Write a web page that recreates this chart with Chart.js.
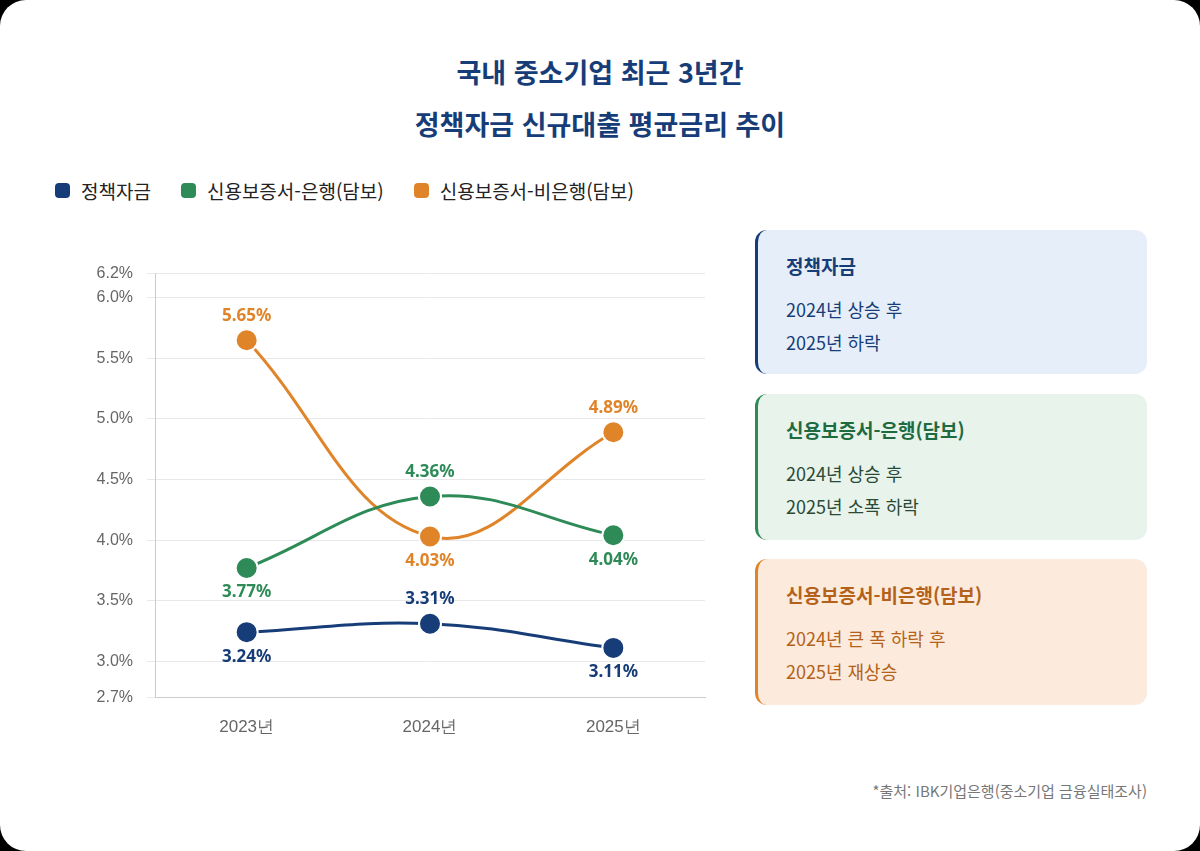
<!DOCTYPE html>
<html lang="ko">
<head>
<meta charset="utf-8">
<script src="https://cdn.jsdelivr.net/npm/chart.js@4"></script>
<style>
  html, body { margin: 0; padding: 0; background: #000; }
  body { width: 1200px; height: 851px; font-family: "Noto Sans CJK KR", "Noto Sans", sans-serif; }
  .card { position: absolute; left: 0; top: 0; width: 1200px; height: 851px; background: #fff; border-radius: 26px; overflow: hidden; }
  h1 { position: absolute; left: 0; width: 1200px; top: 46px; margin: 0; text-align: center; color: #173d78; font-size: 27px; line-height: 52px; font-weight: 700; }
  .legend { position: absolute; left: 55px; top: 177px; display: flex; gap: 30px; font-size: 19px; color: #222; }
  .legend span { display: inline-flex; align-items: center; }
  .legend i { display: inline-block; width: 15px; height: 15px; border-radius: 4px; margin-right: 11px; }
  .chart { position: absolute; left: 60px; top: 250px; width: 660px; height: 500px; }
  .panel { position: absolute; left: 755px; width: 392px; border-radius: 12px; border-left: 3px solid; box-sizing: border-box; padding: 22px 0 0 28px; }
  .panel b { display: block; font-size: 19px; margin-bottom: 14px; }
  .panel p { margin: 0; font-size: 18px; line-height: 33px; }
  .src { position: absolute; right: 53px; top: 780px; font-size: 15px; color: #777; }
</style>
</head>
<body>
<div class="card">
  <h1>국내 중소기업 최근 3년간<br>정책자금 신규대출 평균금리 추이</h1>
  <div class="legend">
    <span><i style="background:#173d78"></i>정책자금</span>
    <span><i style="background:#2e8b57"></i>신용보증서-은행(담보)</span>
    <span><i style="background:#e0842a"></i>신용보증서-비은행(담보)</span>
  </div>
  <div class="chart"><canvas id="rateChart"></canvas></div>
  <div class="panel" style="top:230px;height:144px;background:#e6eff9;border-color:#173d78;color:#173d78">
    <b>정책자금</b><p>2024년 상승 후<br>2025년 하락</p>
  </div>
  <div class="panel" style="top:394px;height:146px;background:#e8f3ec;border-color:#2e8b57;color:#1f6b40">
    <b>신용보증서-은행(담보)</b><p style="color:#2a4a35">2024년 상승 후<br>2025년 소폭 하락</p>
  </div>
  <div class="panel" style="top:559px;height:146px;background:#fcebdc;border-color:#e0842a;color:#b4621a">
    <b>신용보증서-비은행(담보)</b><p>2024년 큰 폭 하락 후<br>2025년 재상승</p>
  </div>
  <div class="src">*출처: IBK기업은행(중소기업 금융실태조사)</div>
</div>
<script>
(() => {
  const years = ["2023년", "2024년", "2025년"];
  const series = [
    { label: "정책자금", color: "#173d78", data: [3.24, 3.31, 3.11], pos: ["below", "above", "below"] },
    { label: "신용보증서-은행(담보)", color: "#2e8b57", data: [3.77, 4.36, 4.04], pos: ["below", "above", "below"] },
    { label: "신용보증서-비은행(담보)", color: "#e0842a", data: [5.65, 4.03, 4.89], pos: ["above", "below", "above"] },
  ];

  const valueLabels = {
    id: "valueLabels",
    afterDatasetsDraw(chart) {
      const { ctx } = chart;
      ctx.save();
      ctx.font = "bold 17px 'Noto Sans', sans-serif";
      ctx.textAlign = "center";
      chart.data.datasets.forEach((ds, i) => {
        const meta = chart.getDatasetMeta(i);
        meta.data.forEach((pt, j) => {
          const above = series[i].pos[j] === "above";
          ctx.fillStyle = ds.borderColor;
          ctx.textBaseline = above ? "bottom" : "top";
          ctx.fillText(ds.data[j].toFixed(2) + "%", pt.x, above ? pt.y - 16 : pt.y + 16);
        });
      });
      ctx.restore();
    },
  };

  new Chart(document.getElementById("rateChart"), {
    type: "line",
    data: {
      labels: years,
      datasets: series.map((s) => ({
        label: s.label,
        data: s.data,
        borderColor: s.color,
        backgroundColor: s.color,
        pointBackgroundColor: s.color,
        pointBorderColor: "#fff",
        pointBorderWidth: 2,
        pointRadius: 11,
        borderWidth: 3,
        tension: 0.4,
      })),
    },
    options: {
      responsive: true,
      maintainAspectRatio: false,
      animation: false,
      layout: { padding: { top: 14, right: 15 } },
      plugins: { legend: { display: false }, tooltip: { enabled: false } },
      scales: {
        x: {
          offset: true,
          grid: { display: false },
          border: { color: "#ccc" },
          ticks: { color: "#666", font: { size: 17 }, padding: 12 },
        },
        y: {
          min: 2.7,
          max: 6.2,
          afterBuildTicks(axis) {
            axis.ticks = [2.7, 3.0, 3.5, 4.0, 4.5, 5.0, 5.5, 6.0, 6.2].map((v) => ({ value: v }));
          },
          afterFit(axis) { axis.width = 95; },
          grid: { color: "#e8e8e8" },
          border: { color: "#ccc" },
          ticks: { color: "#666", font: { size: 16 }, padding: 14, callback: (v) => v.toFixed(1) + "%" },
        },
      },
    },
    plugins: [valueLabels],
  });
})();
</script>
</body>
</html>
